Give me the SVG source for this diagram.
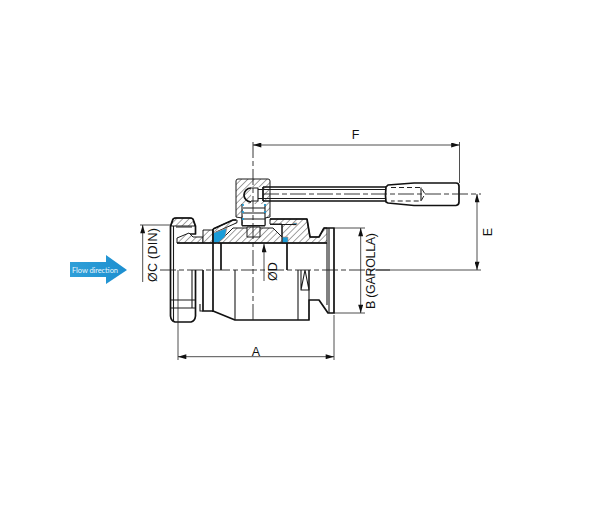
<svg xmlns="http://www.w3.org/2000/svg" width="600" height="509" viewBox="0 0 600 509">
<style>
.o{fill:none;stroke:#1a1a1a;stroke-width:1.1;stroke-linejoin:round}
.b{fill:none;stroke:#111;stroke-width:1.7;stroke-linejoin:round}
.h{fill:url(#hatch);stroke:#1a1a1a;stroke-width:1;stroke-linejoin:round}
.c{fill:#1b9cd8;stroke:#c98a70;stroke-width:.6}
.d{fill:none;stroke:#222;stroke-width:.8}
.m{fill:none;stroke:#222;stroke-width:.9;stroke-dasharray:16 3 5 3}
.k{fill:none;stroke:#222;stroke-width:1;stroke-dasharray:5 3}
.t{font-family:"Liberation Sans",Arial,sans-serif;font-size:12.500px;fill:#111;text-anchor:middle}
</style>
<defs>
<pattern id="hatch" width="4.500" height="4.500" patternUnits="userSpaceOnUse" patternTransform="rotate(45)">
<rect width="4.500" height="4.500" fill="#fff"/><line x1="0" y1="0" x2="0" y2="4.500" stroke="#444" stroke-width="1"/>
</pattern>
<linearGradient id="fl" x1="0" y1="0" x2="1" y2="0"><stop offset="0" stop-color="#2f9fd8"/><stop offset="1" stop-color="#1c8fd0"/></linearGradient>
<marker id="ar" viewBox="0 0 10 6" markerWidth="10" markerHeight="5" refX="10" refY="3" orient="auto-start-reverse" markerUnits="userSpaceOnUse"><path d="M0 0L10 3L0 6Z" fill="#111"/></marker>
</defs>

<g id="flow-arrow">
<path d="M70 262H106V255L127 270L106 284V277H70Z" fill="url(#fl)"/>
<text x="72" y="272.500" font-family="Lato,'Liberation Sans',sans-serif" font-size="7.500" fill="#e8f6fc" textLength="46">Flow direction</text>
</g>

<g id="valve">
<g id="nut">
<path class="h" d="M171 226L173 219Q174 218 176 218H190Q192 218 193 219L195 226Z"/>
<path class="b" d="M170.500 226L173 219Q174 218 176 218H190Q192 218 193 219L195.500 226V234H189M170.500 226V316Q171 321 175 322H191Q195 321 195.500 316V270"/>
<path class="o" d="M171 300H195M171 308H195M173.500 226V322M176 227H192M192 270V308"/>
</g>
<g id="ferrule">
<path class="h" d="M177 243V238L189 233L193 237H203V243Z"/>
<path class="h" d="M203 243V230H213V243Z"/>
</g>
<g id="body">
<path class="h" d="M282 224H270V219H307L310 237H319L324 228H327V243H282Z"/>
<path class="h" d="M213 229L233 220H237V222.700L216 232V243H213Z"/>
<path class="h" d="M218 243L233 228H273L288 243Z"/>
<path class="c" d="M213 233L227 228L225 237L218 243H213Z"/>
<path class="c" d="M282 237H288V243H282Z"/>
<path class="c" d="M293 223H297V225H293Z"/>
<path class="b" d="M177 243H327"/>
<path class="b" d="M213 229V312M221 243V270M287 243V270M203 270V311H213"/>
<path class="o" d="M200 304V311H203M270 224.500H296M282 224V243"/>
<path class="b" d="M213 229L233 220H236M270 219H307L310 237H319L324 228H334V313H328L319 300H309V320H235L213 311"/>
<path class="o" d="M327 243V305M329 228V313M235 270V320M298 270V320M309 270V300"/>
<path class="o" d="M301 270V290H309V270M305 270L301 290M305 270L309 290"/>
</g>
<g id="stem">
<path class="h" d="M236 181Q236 179 238 179H268Q270 179 270 181V217L265 218V226H242V218L236 217Z"/>
<rect x="243" y="204" width="22" height="21" fill="#fff"/>
<path class="o" d="M242 204V225M265 204V225M243 208H265M243 213H265M243 219H265M242 225.500H265"/>
<circle cx="243" cy="205" r="1.100" fill="#1b9cd8"/><circle cx="243" cy="212" r="1.100" fill="#1b9cd8"/><circle cx="243" cy="219" r="1.100" fill="#1b9cd8"/><circle cx="265" cy="205" r="1.100" fill="#1b9cd8"/><circle cx="265" cy="212" r="1.100" fill="#1b9cd8"/>
<rect class="h" x="247" y="227" width="13" height="10"/>
<rect x="251" y="187" width="12" height="14" fill="#fff"/>
<path class="b" d="M251 202A7 7 0 0 1 251 188"/>
<path d="M258 188H263V200H258Z" fill="#fff"/>
<path class="o" d="M251 188H258V201H251"/>
<path class="b" d="M263 187H386M263 201H386M263 187V201"/>
<path class="o" d="M258 189.500H386M258 198.500H386"/>
</g>
<g id="grip">
<path class="b" d="M386 187Q385 195 386 202L388 203L414 205.500H456Q459 205 459 202V186Q459 183 456 183H414L388 185Z"/>
<path class="k" d="M391 187.500H421L425 194L421 201H391"/>
<path class="o" d="M421 187.500V201"/>
</g>
</g>

<g id="connectors">
<path class="m" d="M160 270H390M253 142V320M263 194H481"/>
<path class="d" d="M253 145H459.500" marker-start="url(#ar)" marker-end="url(#ar)"/>
<path class="d" d="M459.500 142V183M140 225H170M334 228H365M334 313H365M375 270H481"/>
<path class="d" d="M477 194V270" marker-start="url(#ar)" marker-end="url(#ar)"/>
<path class="d" d="M360.700 228V313" marker-start="url(#ar)" marker-end="url(#ar)"/>
<path class="d" d="M178 270V360M334 315V360"/>
<path class="d" d="M178 356.700H334" marker-start="url(#ar)" marker-end="url(#ar)"/>
<path class="d" d="M142.700 282V225" marker-end="url(#ar)"/>
<path class="d" d="M264 281V244" marker-end="url(#ar)"/>
</g>

<g id="labels">
<text class="t" x="355.500" y="138.500">F</text>
<text class="t" x="256" y="355.500">A</text>
<text class="t" transform="translate(492 232) rotate(-90)">E</text>
<text class="t" transform="translate(375 271) rotate(-90)" textLength="76">B (GAROLLA)</text>
<text class="t" transform="translate(157 255) rotate(-90)" textLength="54">ØC (DIN)</text>
<text class="t" transform="translate(277 271.500) rotate(-90)">ØD</text>
</g>
</svg>
